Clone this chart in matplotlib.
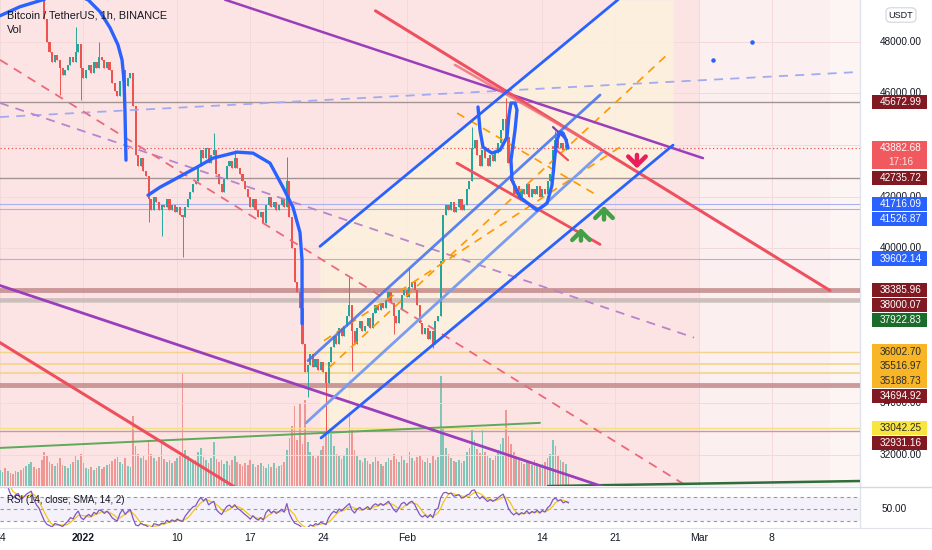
import matplotlib
matplotlib.use("Agg")
import matplotlib.pyplot as plt
import matplotlib.transforms as mtransforms
from matplotlib.patches import Rectangle
import numpy as np
import pandas as pd

plt.rcParams['font.family'] = ['Liberation Sans', 'DejaVu Sans']

W, H = 932, 550


def fx(px):
    return px / W


def fy(py):
    return 1 - py / H


# BTCUSDT closes every 6 hours, x axis = days since 2021-12-24 00:00
CANDLE_HOURS = 6
closes = [
    50700, 50900, 50600, 50800, 50500, 50300, 50700, 50900, 50600, 50800,
    51200, 51500, 51800, 51300, 50900, 50600, 49900, 48900, 48000, 47600,
    47200, 47500, 47300, 47000, 46700, 46900, 47100, 47400, 47200, 47600,
    47900, 47000, 46600, 46900, 47100, 46800, 47200, 47000, 47400, 47300,
    47000, 47200, 46900, 46400, 46100, 45900, 46500, 46900, 46300, 46600,
    46800, 45500, 43600, 43200, 43500, 43000, 42800, 41900, 41500, 42000,
    41800, 41500, 41700, 41600, 41900, 41500, 41700, 41400, 41600, 41300,
    41200, 41600, 41900, 42200, 42500, 42600, 43200, 43800, 43500, 43900,
    43300, 43600, 43800, 42900, 42500, 42200, 42700, 43200, 43400, 43100,
    43500, 43100, 42900, 42600, 42300, 42000, 41600, 41900, 41500, 41200,
    41400, 41000, 41700, 42000, 41600, 41800, 41500, 41700, 41900, 41600,
    42600, 41200, 40000, 38700, 38300, 37700, 36300, 35200, 35500, 35900,
    35400, 35700, 35300, 35600, 35200, 34800, 35600, 36200, 36600, 36300,
    36900, 36600, 37000, 37400, 37800, 36800, 36300, 36900, 37200, 36800,
    37000, 37300, 36900, 37500, 37800, 37600, 37900, 37700, 38000, 38300,
    37900, 37400, 37100, 37600, 38200, 38400, 38100, 38500, 38700, 38400,
    37800, 37100, 36700, 36900, 36500, 36800, 36300, 37200, 37400, 39500,
    41300, 41700, 41500, 41800, 41400, 41600, 41900, 41500, 41700, 42300,
    42600, 43900, 44200, 43600, 43200, 43800, 43500, 43200, 43600, 43400,
    43700, 44100, 44600, 45000, 44300, 43300, 42600, 42100, 42400, 42000,
    42300, 42100, 42500, 42000, 42300, 42100, 42400, 42000, 42300, 42100,
    42600, 42900, 43800, 44200, 43900, 44100, 43800, 44000, 43882.68,
]

volumes = [
    1.6, 1.4, 1.8, 1.5, 1.3, 1.2, 1.5, 1.4, 1.6, 1.8,
    2.0, 2.2, 2.4, 1.9, 1.7, 1.8, 2.6, 3.4, 3.0, 2.4,
    2.2, 2.0, 2.3, 2.8, 2.1, 2.0, 1.8, 2.2, 2.4, 3.0,
    2.6, 3.2, 2.3, 1.8, 1.7, 1.9, 1.6, 1.8, 2.0, 1.7,
    1.9, 2.1, 2.2, 2.5, 2.7, 2.9, 2.4, 2.2, 2.8, 2.0,
    1.9, 7.0, 4.0, 3.2, 2.8, 3.0, 2.6, 4.6, 3.2, 2.8,
    2.5, 2.9, 4.4, 2.7, 2.4, 2.6, 2.3, 2.5, 2.8, 3.0,
    11.3, 3.6, 3.0, 2.7, 2.4, 2.6, 3.4, 3.8, 2.9, 2.6,
    2.3, 2.8, 4.4, 2.7, 2.4, 2.6, 2.2, 2.5, 2.1, 2.6,
    3.1, 2.4, 2.2, 2.0, 2.3, 2.1, 2.6, 2.2, 1.9, 2.1,
    2.3, 2.0, 1.8, 2.2, 1.9, 2.3, 1.8, 2.0, 2.1, 2.4,
    3.6, 4.8, 6.0, 8.0, 4.6, 8.3, 4.2, 8.6, 4.4, 3.4,
    3.0, 2.8, 3.1, 3.6, 4.0, 6.0, 11.9, 5.2, 4.0, 3.2,
    3.0, 2.7, 3.1, 3.8, 14.0, 5.6, 3.6, 3.0, 2.6, 2.4,
    2.8, 2.5, 2.2, 2.4, 2.9, 2.5, 2.2, 2.0, 2.4, 2.8,
    2.6, 3.2, 2.7, 2.4, 3.0, 2.6, 2.3, 3.4, 2.8, 2.5,
    2.9, 3.1, 2.6, 2.4, 2.8, 2.3, 3.0, 2.6, 2.9, 11.0,
    5.8, 3.8, 3.2, 2.8, 2.5, 2.4, 2.6, 2.3, 2.5, 3.4,
    3.8, 5.6, 4.6, 3.7, 3.3, 5.6, 3.4, 3.0, 2.8, 2.6,
    3.0, 3.6, 4.2, 4.8, 7.6, 5.0, 4.2, 3.4, 2.8, 2.6,
    2.4, 2.2, 2.5, 2.3, 2.1, 2.6, 2.3, 2.0, 2.2, 2.4,
    2.8, 3.2, 4.6, 4.0, 3.0, 2.6, 2.4, 2.2, 1.2,
]

# long wicks (candle index -> price)
wick_highs = {17: 49550, 29: 48580, 38: 48000, 82: 44470, 90: 43800, 110: 43530,
              134: 38875, 157: 39230, 181: 44700, 194: 45830, 213: 44550}
wick_lows = {23: 45940, 31: 45750, 48: 45550, 57: 41010, 62: 40500, 70: 39650,
             118: 34250, 125: 32930, 135: 35260, 151: 36700, 166: 36150}

tick_days = [0, 8, 17, 24, 31, 39, 52, 59, 67, 74]
tick_labels = ['24', '2022', '10', '17', '24', 'Feb', '14', '21', 'Mar', '8']
price_ticks = [32000, 34000, 36000, 38000, 40000, 42000, 44000, 46000, 48000]

level_prices = [45672.99, 43882.68, 42735.72, 41716.09, 41526.87, 39602.14, 38385.96,
                38000.07, 37922.83, 36002.70, 35516.97, 35188.73, 34694.92, 33042.25, 32931.16]
level_kinds = ['dark', 'last', 'dark', 'blue', 'blue', 'blue', 'dark',
               'dark', 'green', 'amber', 'amber', 'amber', 'dark', 'yellow', 'dark']
level_line_colors = ['#a39494', None, '#a39494', '#a9b1ee', '#a9b1ee', '#a9b1ee', '#bb7d7d',
                     '#c2b2b2', '#d8d0c8', '#f2d48c', '#f2d48c', '#f2d48c', '#bb7d7d', '#f5df86', '#c99a9a']
level_line_widths = [1, 0, 1, 0.8, 0.8, 0.8, 3.5, 3.5, 0.5, 1, 1.2, 1.2, 3.5, 1, 1]

# drawings: (day, price) points
curve1_days = [0, 1.92, 4.12, 6.23, 8.44, 9.59, 10.55, 11.31, 11.70, 11.89, 11.98, 12.08]
curve1_prices = [49010, 49360, 49630, 49940, 49630, 49165, 48544, 47884, 47300, 46525, 45360, 43418]
curve2_days = [14.19, 15.34, 16.59, 18.89, 20.42, 22.72, 24.26, 25.89, 27.13, 28.09, 28.76, 28.96, 28.96]
curve2_prices = [42059, 42370, 42641, 43146, 43496, 43729, 43690, 43302, 42370, 41593, 40622, 39535, 37089]
curve3_days = [45.83, 46.02, 46.31, 47.17, 47.94, 48.61, 48.80, 48.99, 49.38, 49.57, 49.38, 48.99,
               49.09, 49.86, 51.49, 52.45, 52.92, 53.21, 53.40, 53.69, 53.98, 54.27, 54.46]
curve3_prices = [45476, 44583, 43923, 43690, 43806, 44311, 45165, 45631, 45631, 45360, 44583, 43418,
                 42641, 41981, 41477, 41748, 42447, 43612, 44195, 44505, 44466, 44195, 43884]

blue_top = [(30.68, 40079), (59.25, 49631)]
blue_mid1 = [(29.53, 35652), (57.53, 45942)]
blue_mid2 = [(29.34, 33245), (57.72, 43729)]
blue_low = [(30.78, 32662), (64.53, 44001)]
orange_a = [(31.06, 36429), (59.44, 43923)]
orange_b = [(31.54, 35380), (63.95, 47495)]
orange_down = [(43.82, 45243), (57.24, 42059)]
red_long = [(36.0, 49200), (79.58, 38370)]
red_second = [(43.62, 47107), (57.53, 43884)]
red_left = [(0, 36351), (22.82, 30682)]
red_short = [(43.82, 43302), (57.53, 40156)]
red_tiny = [(53.02, 43923), (54.46, 43418)]
purple_tiny = [(53.02, 44699), (54.36, 44195)]
red_dashed = [(0, 47301), (66.16, 30720)]
purple_dashed = [(0, 45631), (66.54, 36545)]
lav_dashed = [(0, 45088), (82.45, 46835)]
purple_top = [(21.57, 49631), (67.40, 43496)]
purple_low = [(0, 38564), (58.49, 30682)]
green_line = [(0, 32274), (51.77, 33245)]
green_floor = [(52.54, 30798), (82.45, 30993)]

dot_days = [68.36, 72.10]
dot_prices = [47301, 48000]
arrow_down = [(61.07, 43729, 42991)]
arrows_up = [(57.91, 41011, 41748), (55.70, 40195, 40894)]

XLIM = (0, 860 / 10.43)
YLIM = (30800, 49620)
ppx = (YLIM[1] - YLIM[0]) / 486.0

fig = plt.figure(figsize=(W / 100, H / 100), dpi=100)
fig.patch.set_facecolor('white')

rect_main = [0, fy(486), fx(860), 486 / H]
ax_vol = fig.add_axes(rect_main)
ax = fig.add_axes(rect_main, sharex=ax_vol)
ax_rsi = fig.add_axes([0, fy(527), fx(860), 40 / H])
ax_vol.set_zorder(1)
ax.set_zorder(2)

# volume pane / background
ax_vol.set_facecolor('#fce4e4')
ax_vol.set_xlim(*XLIM)
ax_vol.set_ylim(0, 48.6)
bg = mtransforms.blended_transform_factory(ax_vol.transData, ax_vol.transAxes)
ax_vol.add_patch(Rectangle((67.0, 0), 15.5, 1, transform=bg, fc='#fcefef', ec='none', zorder=0))
ax_vol.add_patch(Rectangle((79.6, 0), 3.0, 1, transform=bg, fc='#fdf4f4', ec='none', zorder=0))
for d in tick_days:
    ax_vol.axvline(d, color='#f3d9d9', lw=0.7, zorder=0.2)

n = len(closes)
days = np.arange(n) * CANDLE_HOURS / 24
opens = [closes[0]] + closes[:-1]
up = [c >= o for o, c in zip(opens, closes)]
vol_colors = ['#74c2b4' if u else '#ee8f8c' for u in up]
ax_vol.bar(days, volumes[:n], width=0.16, color=vol_colors, alpha=0.9, zorder=2)
for s in ax_vol.spines.values():
    s.set_visible(False)
ax_vol.set_xticks([])
ax_vol.set_yticks([])

# main price pane
ax.set_xlim(*XLIM)
ax.set_ylim(*YLIM)
ax.set_axis_off()

for t in price_ticks:
    ax.axhline(t, color='#f3d9d9', lw=0.7, zorder=0.3)

# channel tint between the outer blue lines
(tx0, ty0), (tx1, ty1) = blue_top
(bx0, by0), (bx1, by1) = blue_low
fx_grid = np.linspace(tx0, bx1, 200)
upper = ty0 + (ty1 - ty0) / (tx1 - tx0) * (fx_grid - tx0)
lower = by0 + (by1 - by0) / (bx1 - bx0) * (fx_grid - bx0)
ax.fill_between(fx_grid, lower, np.minimum(upper, YLIM[1]), color='#fdf1dd', alpha=0.85,
                lw=0, zorder=0.5)

for p, c, lw in zip(level_prices, level_line_colors, level_line_widths):
    if c is None:
        continue
    ax.axhline(p, color=c, lw=lw, alpha=0.75 if lw > 2 else 1, zorder=1)
ax.axhline(level_prices[1], color='#ef5350', lw=0.9, ls=(0, (1, 2)), zorder=1)

# candles
highs = [max(o, c) for o, c in zip(opens, closes)]
lows = [min(o, c) for o, c in zip(opens, closes)]
for i, v in wick_highs.items():
    highs[i] = v
for i, v in wick_lows.items():
    lows[i] = v
cc = ['#26a69a' if u else '#ef5350' for u in up]
ax.vlines(days, lows, highs, colors=cc, lw=0.7, zorder=3)
bodies = [max(abs(c - o), 40) for o, c in zip(opens, closes)]
ax.bar(days, bodies, bottom=[min(o, c) for o, c in zip(opens, closes)], width=0.2,
       color=cc, zorder=3)


def seg(pts, **kw):
    (x0, y0), (x1, y1) = pts
    ax.plot([x0, x1], [y0, y1], solid_capstyle='round', **kw)


seg(lav_dashed, color='#a3aaf0', lw=1.3, ls=(0, (5, 4)), zorder=4)
seg(purple_dashed, color='#b884cc', lw=1.3, ls=(0, (5, 4)), zorder=4)
seg(red_dashed, color='#ea6a7a', lw=1.3, ls=(0, (5, 4)), zorder=4)
seg(orange_a, color='#ff9800', lw=1.2, ls=(0, (5, 4)), zorder=4)
seg(orange_b, color='#ff9800', lw=1.2, ls=(0, (5, 4)), zorder=4)
seg(orange_down, color='#ff9800', lw=1.2, ls=(0, (5, 4)), zorder=4)
seg(green_line, color='#5ea95a', lw=1.4, zorder=4)
seg(green_floor, color='#2e6e3a', lw=1.8, zorder=4)
seg(purple_low, color='#9c3dbb', lw=2.0, zorder=4)
seg(purple_top, color='#9c3dbb', lw=1.8, zorder=4)
seg(red_left, color='#ef4f5c', lw=2.2, zorder=4)
seg(red_long, color='#ee5060', lw=2.2, zorder=5)
seg(red_second, color='#f06a74', lw=1.8, alpha=0.8, zorder=5)
seg(red_short, color='#ef4f5c', lw=2.0, zorder=5)
seg(red_tiny, color='#ef4f5c', lw=1.6, zorder=6)
seg(purple_tiny, color='#7e3dbb', lw=1.6, zorder=6)
seg(blue_top, color='#2962ff', lw=2.0, zorder=5)
seg(blue_mid1, color='#3f70f0', lw=2.0, alpha=0.85, zorder=5)
seg(blue_mid2, color='#7a9cf0', lw=2.0, zorder=5)
seg(blue_low, color='#2962ff', lw=2.0, zorder=5)

for xs, ys in [(curve1_days, curve1_prices), (curve2_days, curve2_prices), (curve3_days, curve3_prices)]:
    ax.plot(xs, ys, color='#2962ff', lw=2.4, solid_joinstyle='round', solid_capstyle='round', zorder=6)

ax.scatter(dot_days, dot_prices, s=5, color='#2962ff', zorder=6)
for x, y0, y1 in arrow_down:
    ax.annotate('', xy=(x, y1), xytext=(x, y0),
                arrowprops=dict(arrowstyle='->,head_length=0.45,head_width=0.45', color='#e91e5a',
                                lw=3.2, mutation_scale=14), zorder=7)
for x, y0, y1 in arrows_up:
    ax.annotate('', xy=(x, y1), xytext=(x, y0),
                arrowprops=dict(arrowstyle='->,head_length=0.45,head_width=0.45', color='#43a047',
                                lw=3.2, mutation_scale=14), zorder=7)

# price scale: level labels stacked so they do not collide
blend = mtransforms.blended_transform_factory(fig.transFigure, ax.transData)
kind_style = {
    'dark': ('#801922', 'white'),
    'last': ('#f05a5f', 'white'),
    'blue': ('#2962ff', 'white'),
    'green': ('#1b6b2b', 'white'),
    'amber': ('#f8b627', '#2a2a2a'),
    'yellow': ('#f9e53f', '#2a2a2a'),
}
boxes = []
floor = None
for p, k in sorted(zip(level_prices, level_kinds), reverse=True):
    y = p if floor is None else min(p, floor)
    fc, tc = kind_style[k]
    above = 7.2 * ppx
    below = (21.0 if k == 'last' else 7.2) * ppx
    boxes.append((y - below, y + above))
    ax.add_patch(Rectangle((fx(872), y - below), fx(55), above + below, transform=blend,
                           fc=fc, ec='none', clip_on=False, zorder=20))
    ax.text(fx(901), y, f'{p:.2f}', transform=blend, ha='center', va='center',
            color=tc, fontsize=7.2, clip_on=False, zorder=21)
    if k == 'last':
        ax.text(fx(901), y - 14 * ppx, '17:16', transform=blend, ha='center', va='center',
                color='#fde0e0', fontsize=7.2, clip_on=False, zorder=21)
    floor = y - below - 7.6 * ppx

for t in price_ticks:
    if any(lo <= t <= hi for lo, hi in boxes):
        continue
    ax.text(fx(901), t, f'{t:.2f}', transform=blend, ha='center', va='center',
            color='#131722', fontsize=7.2, clip_on=False, zorder=15)

fig.text(fx(901), fy(15), 'USDT', ha='center', va='center', fontsize=6.5, color='#131722',
         bbox=dict(boxstyle='round,pad=0.3,rounding_size=0.5', fc='white', ec='#d1d4dc', lw=0.8))

# RSI pane (Wilder RSI on the 6h closes, short SMA on top)
rsi_len = 10
s = pd.Series(closes, dtype=float)
d = s.diff()
gain = d.clip(lower=0).ewm(alpha=1 / rsi_len, adjust=False).mean()
loss = (-d.clip(upper=0)).ewm(alpha=1 / rsi_len, adjust=False).mean()
rsi = 100 - 100 / (1 + gain / loss)
rsi_ma = rsi.rolling(4, min_periods=1).mean()

ax_rsi.set_xlim(*XLIM)
ax_rsi.set_ylim(20, 86.7)
ax_rsi.axhspan(30, 70, color='#7e57c2', alpha=0.08, lw=0)
for lvl in (70, 50, 30):
    ax_rsi.axhline(lvl, color='#9598a1', lw=0.8, ls=(0, (3, 3)))
ax_rsi.plot(days, rsi_ma, color='#f5c518', lw=0.9)
ax_rsi.plot(days, rsi, color='#7e57c2', lw=0.9)
for s_ in ax_rsi.spines.values():
    s_.set_visible(False)
ax_rsi.set_yticks([])
ax_rsi.set_xticks(tick_days, tick_labels)
ax_rsi.tick_params(axis='x', length=0, pad=4, labelsize=7.5, colors='#131722')
for lab in ax_rsi.get_xticklabels():
    if lab.get_text() == '2022':
        lab.set_fontweight('bold')
blend_r = mtransforms.blended_transform_factory(fig.transFigure, ax_rsi.transData)
ax_rsi.text(fx(894), 50, '50.00', transform=blend_r, ha='center', va='center',
            color='#131722', fontsize=7.2, clip_on=False)

# separators
fig.add_artist(plt.Line2D([fx(860), fx(860)], [fy(0), fy(527)], color='#e0e3eb', lw=1))
fig.add_artist(plt.Line2D([0, 1], [fy(486.5), fy(486.5)], color='#d6d8df', lw=1))
fig.add_artist(plt.Line2D([0, 1], [fy(527.5), fy(527.5)], color='#e0e3eb', lw=0.8))

# legends
fig.text(fx(7), fy(15), 'Bitcoin / TetherUS, 1h, BINANCE', ha='left', va='center',
         fontsize=7.8, color='#131722')
fig.text(fx(7), fy(30), 'Vol', ha='left', va='center', fontsize=7.8, color='#131722')
fig.text(fx(7), fy(500), 'RSI (14, close, SMA, 14, 2)', ha='left', va='center',
         fontsize=7, color='#131722')

fig.savefig('out.png', dpi=100)
